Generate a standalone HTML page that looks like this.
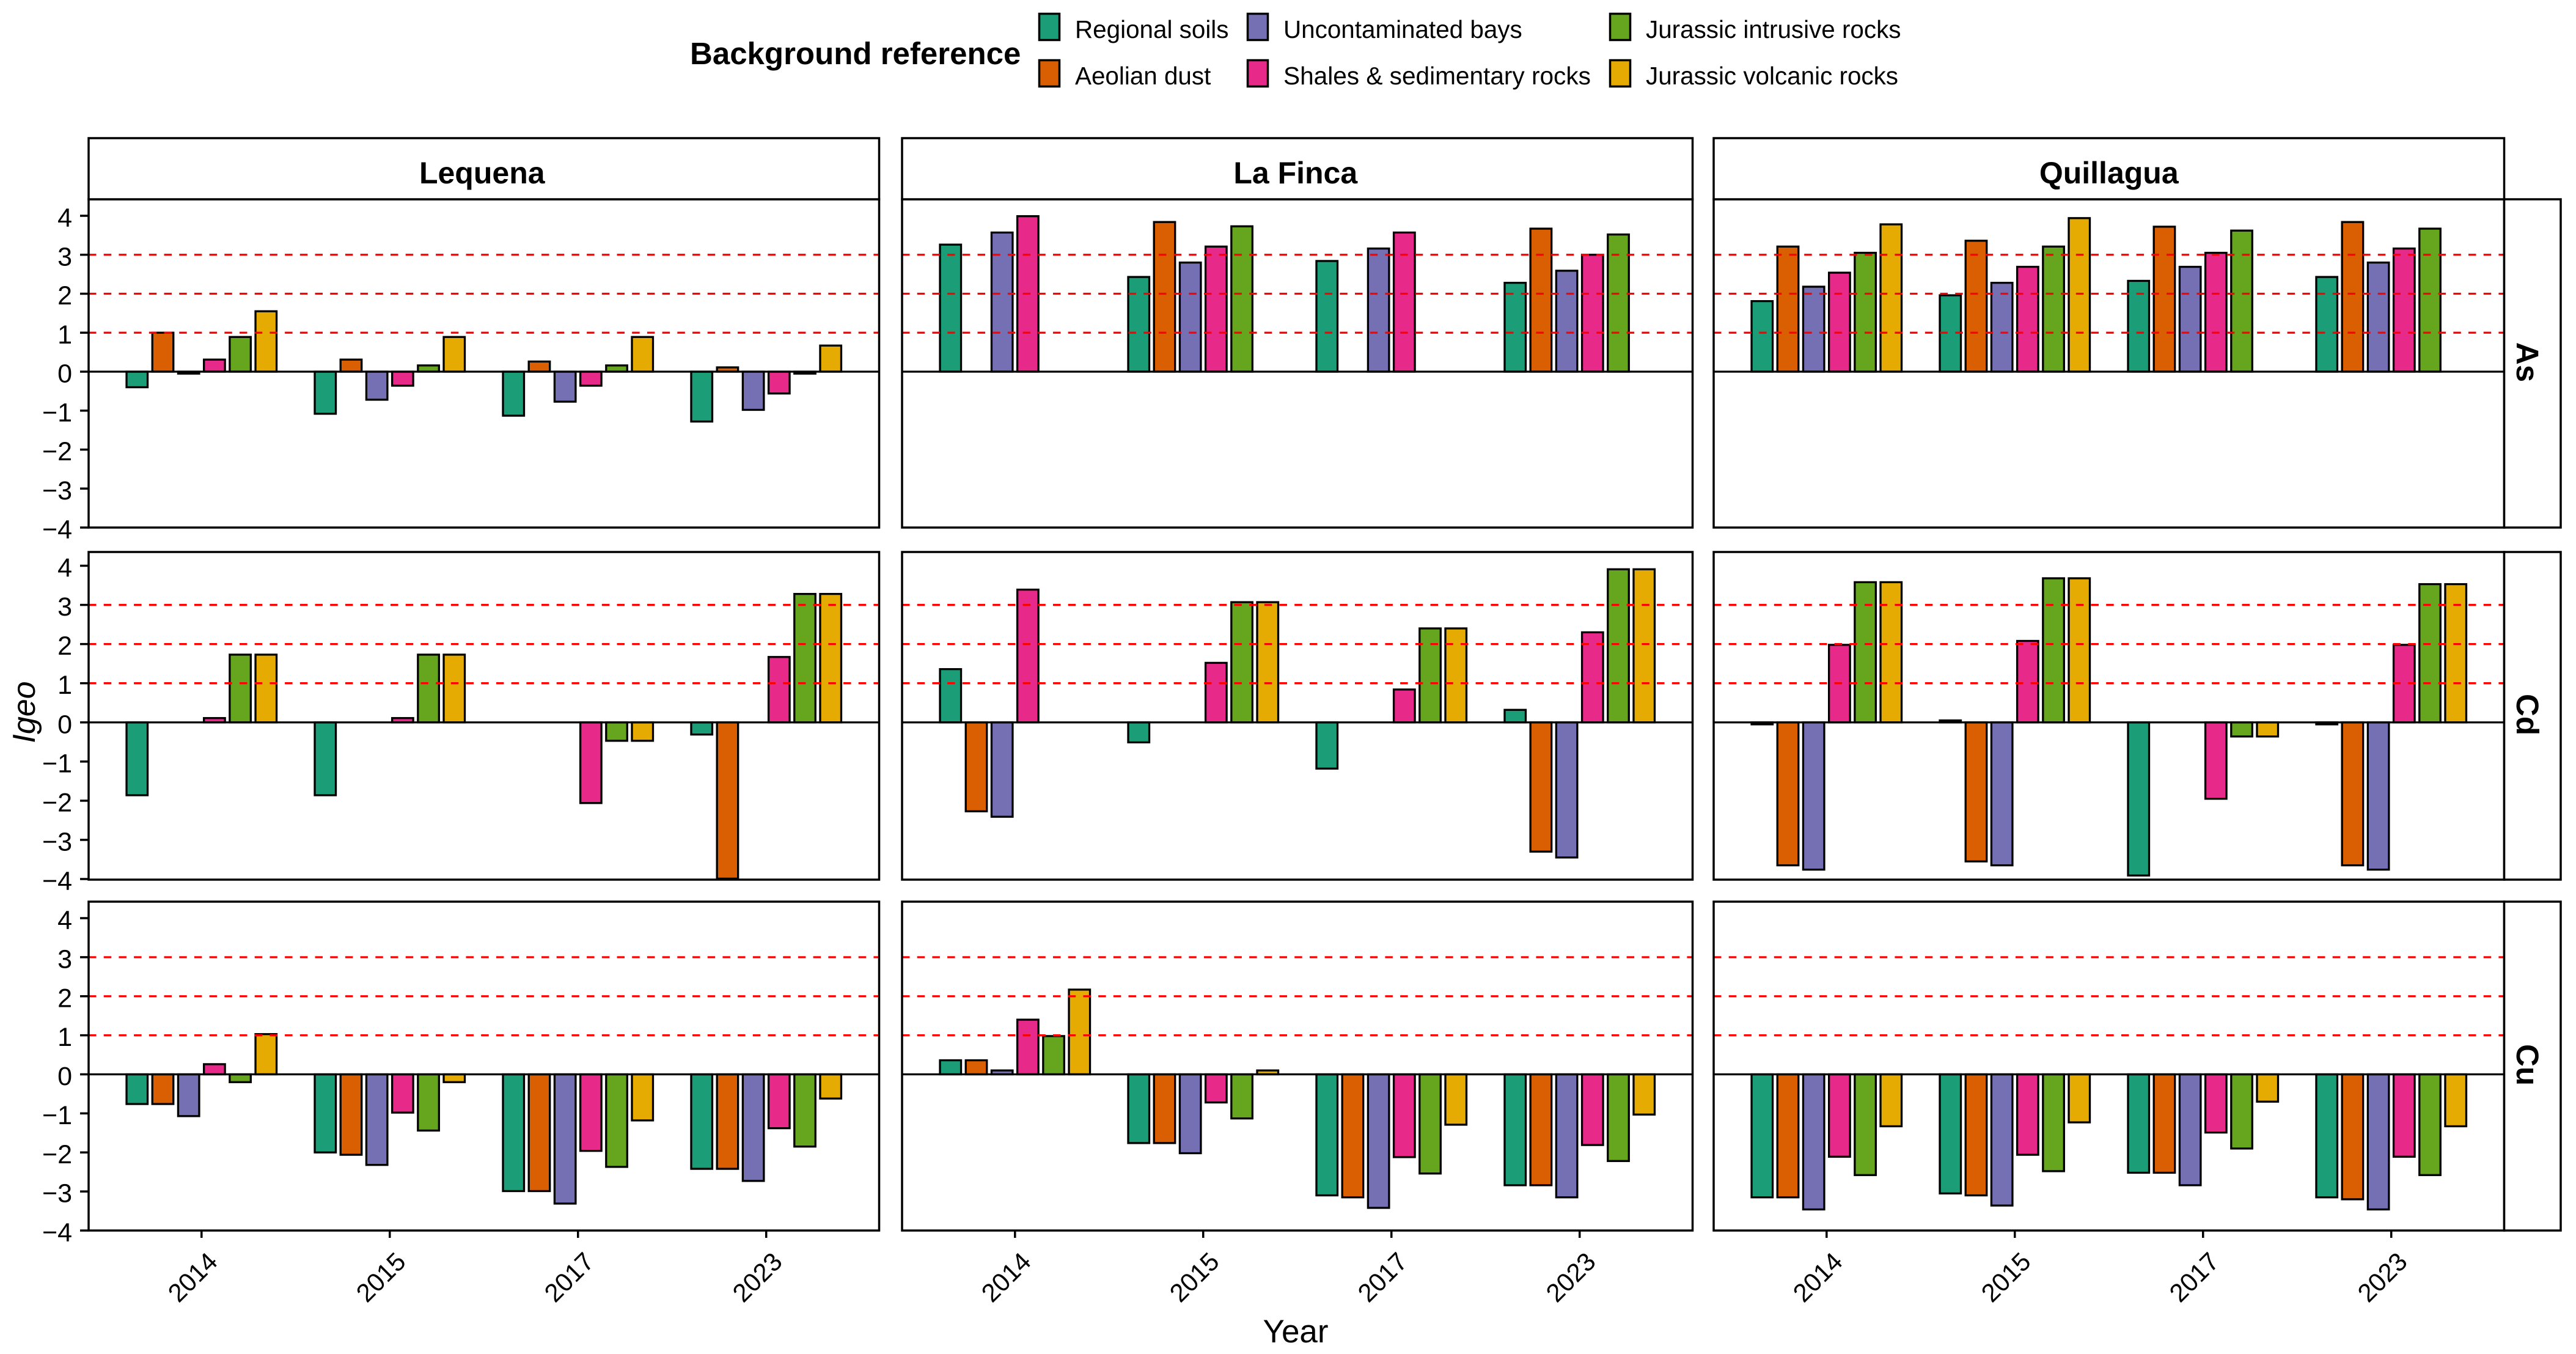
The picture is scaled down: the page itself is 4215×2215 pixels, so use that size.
<!DOCTYPE html>
<html lang="en">
<head>
<meta charset="utf-8">
<title>Igeo by year, site and element</title>
<style>
html,body{margin:0;padding:0;background:#fff;}
svg{display:block;}
text{font-family:"Liberation Sans",sans-serif;fill:#000;}
</style>
</head>
<body>
<svg id="chart" xmlns="http://www.w3.org/2000/svg" width="4215" height="2215" viewBox="0 0 4215 2215">
  <rect x="0" y="0" width="4215" height="2215" fill="#ffffff"/>

  <g>
    <text x="1129" y="105" font-size="51" font-weight="bold">Background reference</text>
    <g>
      <rect x="1700.5" y="22.5" width="33" height="43" fill="#1B9E77" stroke="#000" stroke-width="3.5"/>
      <text x="1759" y="62" font-size="40.4">Regional soils</text>
    </g>
    <g>
      <rect x="1700.5" y="98.5" width="33" height="43" fill="#D95F02" stroke="#000" stroke-width="3.5"/>
      <text x="1759" y="138" font-size="40.4">Aeolian dust</text>
    </g>
    <g>
      <rect x="2041.5" y="22.5" width="33" height="43" fill="#7570B3" stroke="#000" stroke-width="3.5"/>
      <text x="2100" y="62" font-size="40.4">Uncontaminated bays</text>
    </g>
    <g>
      <rect x="2041.5" y="98.5" width="33" height="43" fill="#E7298A" stroke="#000" stroke-width="3.5"/>
      <text x="2100" y="138" font-size="40.6">Shales &amp; sedimentary rocks</text>
    </g>
    <g>
      <rect x="2634.5" y="22.5" width="33" height="43" fill="#66A61E" stroke="#000" stroke-width="3.5"/>
      <text x="2693" y="62" font-size="40.4">Jurassic intrusive rocks</text>
    </g>
    <g>
      <rect x="2634.5" y="98.5" width="33" height="43" fill="#E6AB02" stroke="#000" stroke-width="3.5"/>
      <text x="2693" y="138" font-size="40.4">Jurassic volcanic rocks</text>
    </g>
  </g>

  <text transform="translate(57,1165) rotate(-90)" text-anchor="middle" font-size="52" font-style="italic">Igeo</text>
  <text x="2120" y="2196" text-anchor="middle" font-size="53">Year</text>

  <g id="plot"></g>
</svg>

<script>
const years = ["2014", "2015", "2017", "2023"];
const sites = ["Lequena", "La Finca", "Quillagua"];
const elements = ["As", "Cd", "Cu"];
const seriesNames = ["regional-soils", "aeolian-dust", "uncontaminated-bays", "shales-sedimentary-rocks", "jurassic-intrusive-rocks", "jurassic-volcanic-rocks"];
const seriesColors = ["#1B9E77", "#D95F02", "#7570B3", "#E7298A", "#66A61E", "#E6AB02"];
const yTicks = [4, 3, 2, 1, 0, -1, -2, -3, -4];
const yTickLabels = ["4", "3", "2", "1", "0", "\u22121", "\u22122", "\u22123", "\u22124"];
const thresholds = [1, 2, 3];

// One row per year; columns follow seriesNames. null = no bar.
const asLequena = [
  [-0.40, 1.00, -0.05, 0.31, 0.89, 1.55],
  [-1.08, 0.31, -0.72, -0.36, 0.16, 0.89],
  [-1.13, 0.26, -0.77, -0.36, 0.16, 0.89],
  [-1.28, 0.11, -0.98, -0.56, -0.05, 0.67]
];
const asLaFinca = [
  [3.26, null, 3.57, 3.99, null, null],
  [2.43, 3.84, 2.80, 3.21, 3.73, null],
  [2.84, null, 3.16, 3.57, null, null],
  [2.28, 3.67, 2.59, 3.00, 3.52, null]
];
const asQuillagua = [
  [1.81, 3.21, 2.18, 2.54, 3.05, 3.78],
  [1.96, 3.36, 2.28, 2.69, 3.21, 3.94],
  [2.33, 3.72, 2.69, 3.05, 3.62, null],
  [2.43, 3.84, 2.80, 3.16, 3.67, null]
];
const cdLequena = [
  [-1.86, null, null, 0.11, 1.73, 1.73],
  [-1.86, null, null, 0.11, 1.73, 1.73],
  [null, null, null, -2.06, -0.47, -0.47],
  [-0.31, -3.99, null, 1.67, 3.28, 3.28]
];
const cdLaFinca = [
  [1.36, -2.27, -2.41, 3.39, null, null],
  [-0.51, null, null, 1.52, 3.07, 3.07],
  [-1.18, null, null, 0.84, 2.40, 2.40],
  [0.32, -3.30, -3.45, 2.30, 3.91, 3.91]
];
const cdQuillagua = [
  [-0.05, -3.65, -3.76, 1.98, 3.58, 3.58],
  [0.05, -3.55, -3.65, 2.08, 3.68, 3.68],
  [-3.91, null, null, -1.95, -0.36, -0.36],
  [-0.05, -3.65, -3.76, 1.98, 3.53, 3.53]
];
const cuLequena = [
  [-0.76, -0.76, -1.07, 0.26, -0.20, 1.03],
  [-2.00, -2.06, -2.32, -0.98, -1.44, -0.20],
  [-2.99, -2.99, -3.31, -1.96, -2.37, -1.18],
  [-2.42, -2.42, -2.73, -1.38, -1.85, -0.62]
];
const cuLaFinca = [
  [0.36, 0.36, 0.10, 1.40, 0.98, 2.17],
  [-1.76, -1.76, -2.02, -0.72, -1.13, 0.10],
  [-3.10, -3.15, -3.42, -2.12, -2.54, -1.29],
  [-2.84, -2.84, -3.15, -1.81, -2.22, -1.03]
];
const cuQuillagua = [
  [-3.15, -3.15, -3.46, -2.11, -2.58, -1.33],
  [-3.05, -3.10, -3.36, -2.06, -2.48, -1.23],
  [-2.52, -2.52, -2.84, -1.49, -1.90, -0.70],
  [-3.15, -3.20, -3.46, -2.11, -2.58, -1.33]
];
const panelValues = [
  [asLequena, asLaFinca, asQuillagua],
  [cdLequena, cdLaFinca, cdQuillagua],
  [cuLequena, cuLaFinca, cuQuillagua]
];

const SVGNS = "http://www.w3.org/2000/svg";
const plot = document.getElementById("plot");
const columnLefts = [145, 1476, 2804];
const panelWidth = 1293.5;
const rowFrames = [
  { stripTop: 226, top: 326, bottom: 863, y4: 353, yMinus4: 863 },
  { top: 903, bottom: 1439, y4: 925.5, yMinus4: 1438 },
  { top: 1475, bottom: 2013, y4: 1502, yMinus4: 2013 }
];
const stripRight = 4190;
const bandUnits = years.length - 1 + 1.2;
const barPitch = 42.2;
const barWidth = 34.5;

function make(tag, attrs, parent) {
  const el = document.createElementNS(SVGNS, tag);
  for (const k in attrs) el.setAttribute(k, attrs[k]);
  parent.appendChild(el);
  return el;
}
function kebab(s) { return s.toLowerCase().replace(/\s+/g, "-"); }
function xBand(col, yearIndex) {
  return columnLefts[col] + (0.6 + yearIndex) * panelWidth / bandUnits;
}
function yScale(row, value) {
  const f = rowFrames[row];
  return f.yMinus4 + (value + 4) * (f.y4 - f.yMinus4) / 8;
}

const defs = make("defs", {}, plot);

rowFrames.forEach(function (frame, r) {
  sites.forEach(function (site, c) {
    const left = columnLefts[c];
    const panelKey = kebab(elements[r]) + "-" + kebab(site);

    const clip = make("clipPath", { id: "clip-" + panelKey }, defs);
    make("rect", { x: left, y: frame.top, width: panelWidth, height: frame.bottom - frame.top }, clip);

    const panel = make("g", {}, plot);
    
    

    const marks = make("g", { "clip-path": "url(#clip-" + panelKey + ")" }, panel);
    
    

    panelValues[r][c].forEach(function (yearValues, yi) {
      yearValues.forEach(function (value, si) {
        if (value === null) return;
        const cx = xBand(c, yi) + (si - 2.5) * barPitch;
        const y0 = yScale(r, 0);
        const yv = yScale(r, value);
        const bar = make("rect", {
          x: cx - barWidth / 2,
          y: Math.min(y0, yv),
          width: barWidth,
          height: Math.abs(yv - y0),
          fill: seriesColors[si],
          stroke: "#000",
          "stroke-width": 3.3
        }, marks);
        
        
      });
    });

    thresholds.forEach(function (t) {
      const line = make("line", {
        x1: left,
        x2: left + panelWidth,
        y1: yScale(r, t),
        y2: yScale(r, t),
        stroke: "#ff0000",
        "stroke-width": 3.3,
        "stroke-dasharray": "12.5 12.2"
      }, panel);
      
      
    });

    const zero = make("line", {
      x1: left,
      x2: left + panelWidth,
      y1: yScale(r, 0),
      y2: yScale(r, 0),
      stroke: "#000",
      "stroke-width": 3.3
    }, panel);
    
    

    const border = make("rect", {
      x: left,
      y: frame.top,
      width: panelWidth,
      height: frame.bottom - frame.top,
      fill: "none",
      stroke: "#000",
      "stroke-width": 3.5
    }, panel);
    
    

    if (r === 0) {
      const strip = make("rect", {
        x: left,
        y: frame.stripTop,
        width: panelWidth,
        height: frame.top - frame.stripTop,
        fill: "#fff",
        stroke: "#000",
        "stroke-width": 3.5
      }, plot);
      
      
      const label = make("text", {
        x: left + panelWidth / 2 - (c < 2 ? 3 : 0),
        y: 300,
        "text-anchor": "middle",
        "font-size": 50,
        "font-weight": "bold"
      }, plot);
      
      
      label.textContent = site;
    }

    if (c === 0) {
      yTicks.forEach(function (tick, ti) {
        const y = yScale(r, tick);
        const mark = make("line", { x1: 131, x2: left, y1: y, y2: y, stroke: "#000", "stroke-width": 3.5 }, plot);
        
        
        const txt = make("text", { x: 118, y: y + 17.5, "text-anchor": "end", "font-size": 43 }, plot);
        
        
        txt.textContent = yTickLabels[ti];
      });
    }

    if (r === rowFrames.length - 1) {
      years.forEach(function (year, yi) {
        const x = xBand(c, yi);
        const mark = make("line", { x1: x, x2: x, y1: frame.bottom, y2: frame.bottom + 12, stroke: "#000", "stroke-width": 3.5 }, plot);
        
        
        const txt = make("text", {
          transform: "translate(" + (x - 15) + ",2089) rotate(-45)",
          y: 15,
          "text-anchor": "middle",
          "font-size": 42
        }, plot);
        
        
        txt.textContent = year;
      });
    }
  });

  const stripLeft = columnLefts[2] + panelWidth;
  const rowStrip = make("rect", {
    x: stripLeft,
    y: frame.top,
    width: stripRight - stripLeft,
    height: frame.bottom - frame.top,
    fill: "#fff",
    stroke: "#000",
    "stroke-width": 3.5
  }, plot);
  
  
  const rowLabel = make("text", {
    transform: "translate(4118," + ((frame.top + frame.bottom) / 2 - 2) + ") rotate(90)",
    "text-anchor": "middle",
    "font-size": 51,
    "font-weight": "bold"
  }, plot);
  
  
  rowLabel.textContent = elements[r];
});
</script>
</body>
</html>
